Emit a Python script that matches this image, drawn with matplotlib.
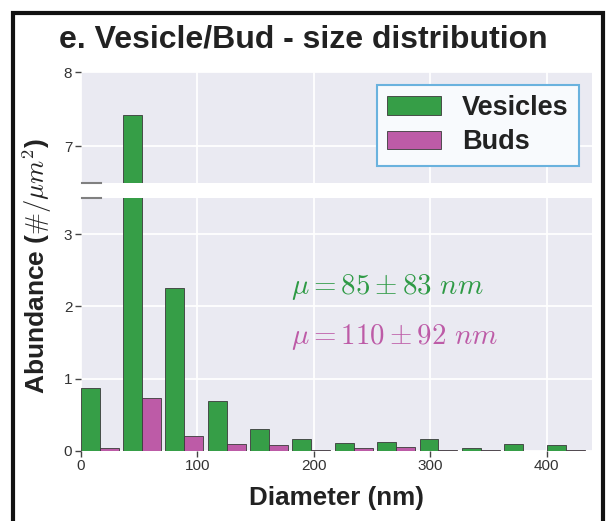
import matplotlib
matplotlib.use("Agg")
import matplotlib.pyplot as plt
from matplotlib.patches import Rectangle, Patch

# ---- data ----
bin_left = [0, 36.4, 72.7, 109.1, 145.5, 181.8, 218.2, 254.5, 290.9, 327.3, 363.6, 400.0]
vesicles = [0.87, 7.42, 2.25, 0.685, 0.30, 0.17, 0.11, 0.13, 0.17, 0.04, 0.09, 0.08]
buds = [0.035, 0.73, 0.21, 0.10, 0.08, 0.01, 0.035, 0.06, 0.02, 0.02, 0.0, 0.02]
xticks = [0, 100, 200, 300, 400]
yticks_top = [7, 8]
yticks_bot = [0, 1, 2, 3]
title = "e. Vesicle/Bud - size distribution"
ann_ves = r"$\mu = 85 \pm 83\ nm$"
ann_bud = r"$\mu = 110 \pm 92\ nm$"

GREEN = "#369E47"
PINK = "#BD5BA7"
BG = "#EAEAF2"
TXT = "#222222"

plt.rcParams["font.family"] = ["Liberation Sans", "DejaVu Sans"]
plt.rcParams["mathtext.fontset"] = "cm"

W, H = 613, 521
fig = plt.figure(figsize=(W / 100, H / 100), dpi=100)

def fx(px):
    return px / W

def fy(py):
    return 1 - py / H

L, R = 80.7, 592
ax_top = fig.add_axes([fx(L), fy(183), fx(R - L), fy(72) - fy(183)])
ax_bot = fig.add_axes([fx(L), fy(451), fx(R - L), fy(198) - fy(451)])

bw = 16.3
for ax in (ax_top, ax_bot):
    ax.set_facecolor(BG)
    ax.set_axisbelow(True)
    ax.grid(True, color="white", linewidth=1.3)
    for s in ax.spines.values():
        s.set_visible(False)
    ax.bar(bin_left, vesicles, width=bw, align="edge", color=GREEN,
           edgecolor="#3a3a3a", linewidth=0.6, label="Vesicles")
    ax.bar([b + bw for b in bin_left], buds, width=bw, align="edge", color=PINK,
           edgecolor="#3a3a3a", linewidth=0.6, label="Buds")
    ax.set_xlim(0, 439)
    ax.set_xticks(xticks)
    ax.tick_params(axis="both", colors="#444444", labelcolor="#333333",
                   labelsize=11, length=4, width=1, pad=2)

ax_top.set_ylim(6.5, 8.0)
ax_top.set_yticks(yticks_top)
ax_top.tick_params(axis="x", bottom=False, labelbottom=False)
ax_bot.set_ylim(0, 3.5)
ax_bot.set_yticks(yticks_bot)

# break marks
kw = dict(color="#808080", linewidth=1.5, clip_on=False)
ax_top.plot([0.003, 0.04], [0, 0], transform=ax_top.transAxes, **kw)
ax_bot.plot([0.003, 0.04], [1, 1], transform=ax_bot.transAxes, **kw)

ax_bot.set_xlabel("Diameter (nm)", fontsize=18.7, fontweight="bold", color=TXT, labelpad=9)
fig.text(fx(37), fy(266), r"Abundance ($\#/\mu m^2$)", rotation=90, ha="center",
         va="center", fontsize=19, fontweight="bold", color=TXT)

fig.text(fx(303), fy(40), title, ha="center", va="center", fontsize=23,
         fontweight="bold", color=TXT)

ax_bot.text(fx(291), fy(287), ann_ves, transform=fig.transFigure, color="#2E9A45",
            fontsize=20.8, ha="left", va="center")
ax_bot.text(fx(291), fy(337), ann_bud, transform=fig.transFigure, color="#BD5BA7",
            fontsize=20.8, ha="left", va="center")

handles = [Patch(facecolor=GREEN, edgecolor="#3a3a3a", linewidth=0.6, label="Vesicles"),
           Patch(facecolor=PINK, edgecolor="#3a3a3a", linewidth=0.6, label="Buds")]
leg = ax_top.legend(handles=handles, loc="upper right",
                    bbox_to_anchor=(fx(579), fy(85)), bbox_transform=fig.transFigure,
                    prop={"size": 19.5, "weight": "bold"}, frameon=True, fancybox=False,
                    handlelength=2.0, handleheight=0.68, labelspacing=0.3,
                    borderpad=0.38, handletextpad=0.78, borderaxespad=0)
leg.get_frame().set_edgecolor("#6AB2DE")
leg.get_frame().set_facecolor("#F8FAFD")
leg.get_frame().set_linewidth(1.5)
leg.get_frame().set_alpha(1)
for t in leg.get_texts():
    t.set_color(TXT)

# outer black frame
fig.add_artist(Rectangle((fx(13), -0.1), fx(603) - fx(13), fy(13) + 0.1,
                         transform=fig.transFigure, fill=False, edgecolor="#111111",
                         linewidth=3, clip_on=False))

fig.savefig("out.png", dpi=100)
